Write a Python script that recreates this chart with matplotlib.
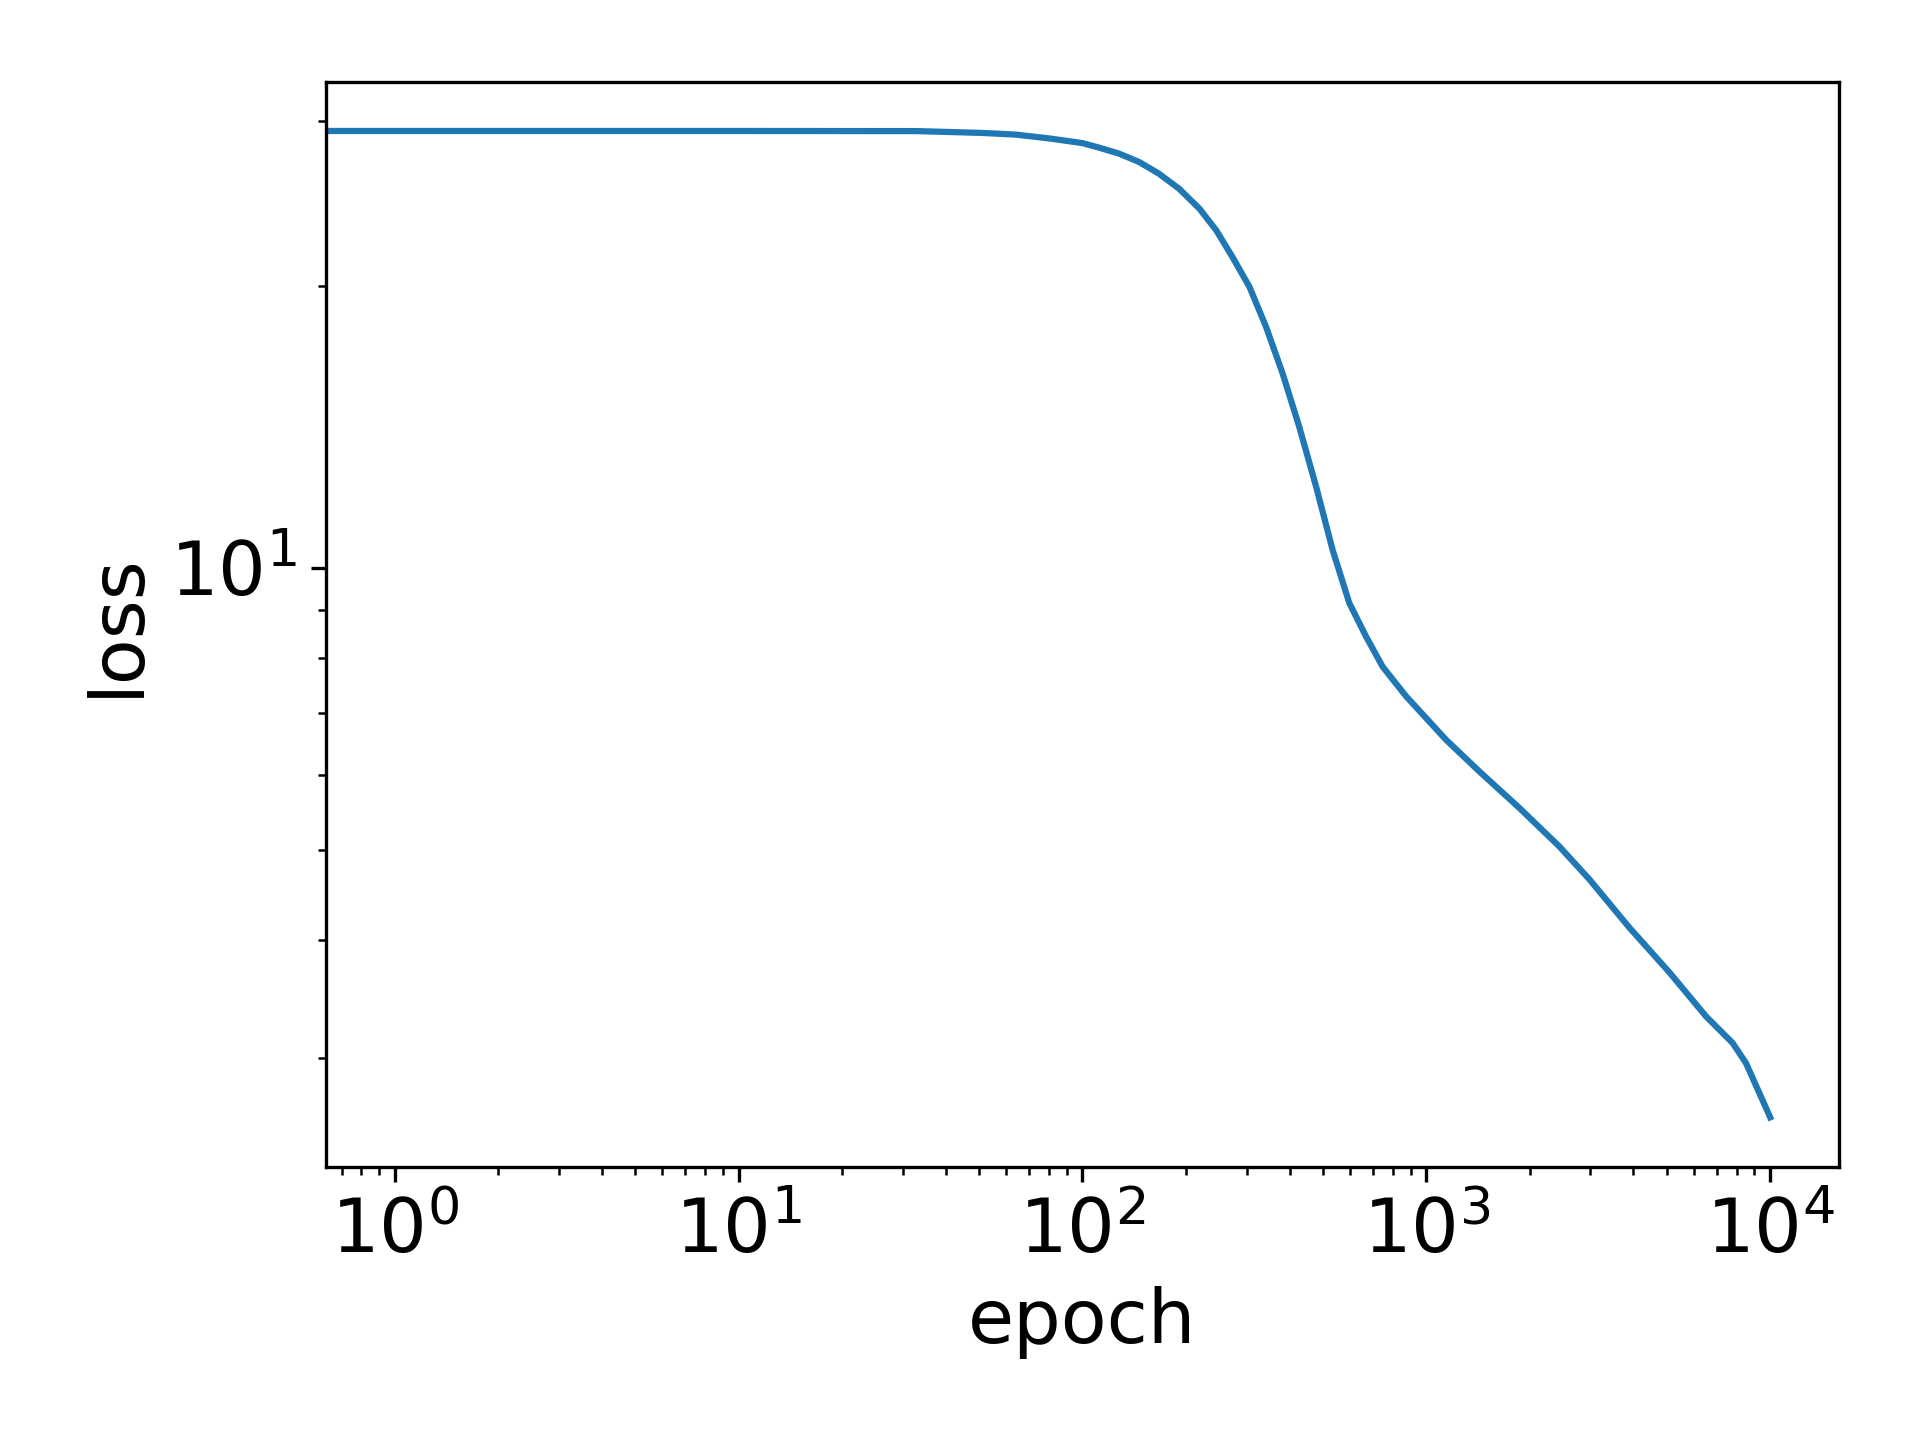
import matplotlib
matplotlib.use("Agg")
import matplotlib.pyplot as plt

# epoch values (epoch 0 is clipped on the log axis)
epoch = [0, 1, 10, 33, 51, 64, 80, 100, 112, 128, 146.5, 167, 191, 219, 245,
         273, 306, 342, 382, 427, 478, 534, 597, 668, 746, 873, 1141, 1426,
         1864, 2436, 2977, 3891, 5087, 6504, 7772, 8501, 10000]
# loss values
loss = [29.24, 29.24, 29.24, 29.23, 29.10, 28.98, 28.71, 28.38, 28.06, 27.65,
        27.08, 26.32, 25.37, 24.15, 22.90, 21.45, 19.93, 18.06, 16.11, 14.13,
        12.20, 10.44, 9.165, 8.44, 7.84, 7.29, 6.55, 6.06, 5.54, 5.04, 4.65,
        4.13, 3.70, 3.32, 3.11, 2.96, 2.59]

plt.rcParams['font.family'] = ['DejaVu Sans']
plt.rcParams['font.size'] = 18

fig = plt.figure(figsize=(6.4, 4.8), dpi=300)
ax = fig.add_axes([0.1698, 0.1898, 0.9578 - 0.1698, 0.9433 - 0.1898])
ax.plot(epoch, loss, color='#1f77b4', linewidth=1.5)
ax.set_xscale('log')
ax.set_yscale('log')
ax.set_xlabel('epoch', fontsize=18)
ax.set_ylabel('loss', fontsize=18)
ax.tick_params(labelsize=18)

fig.savefig('out.png', dpi=300)
